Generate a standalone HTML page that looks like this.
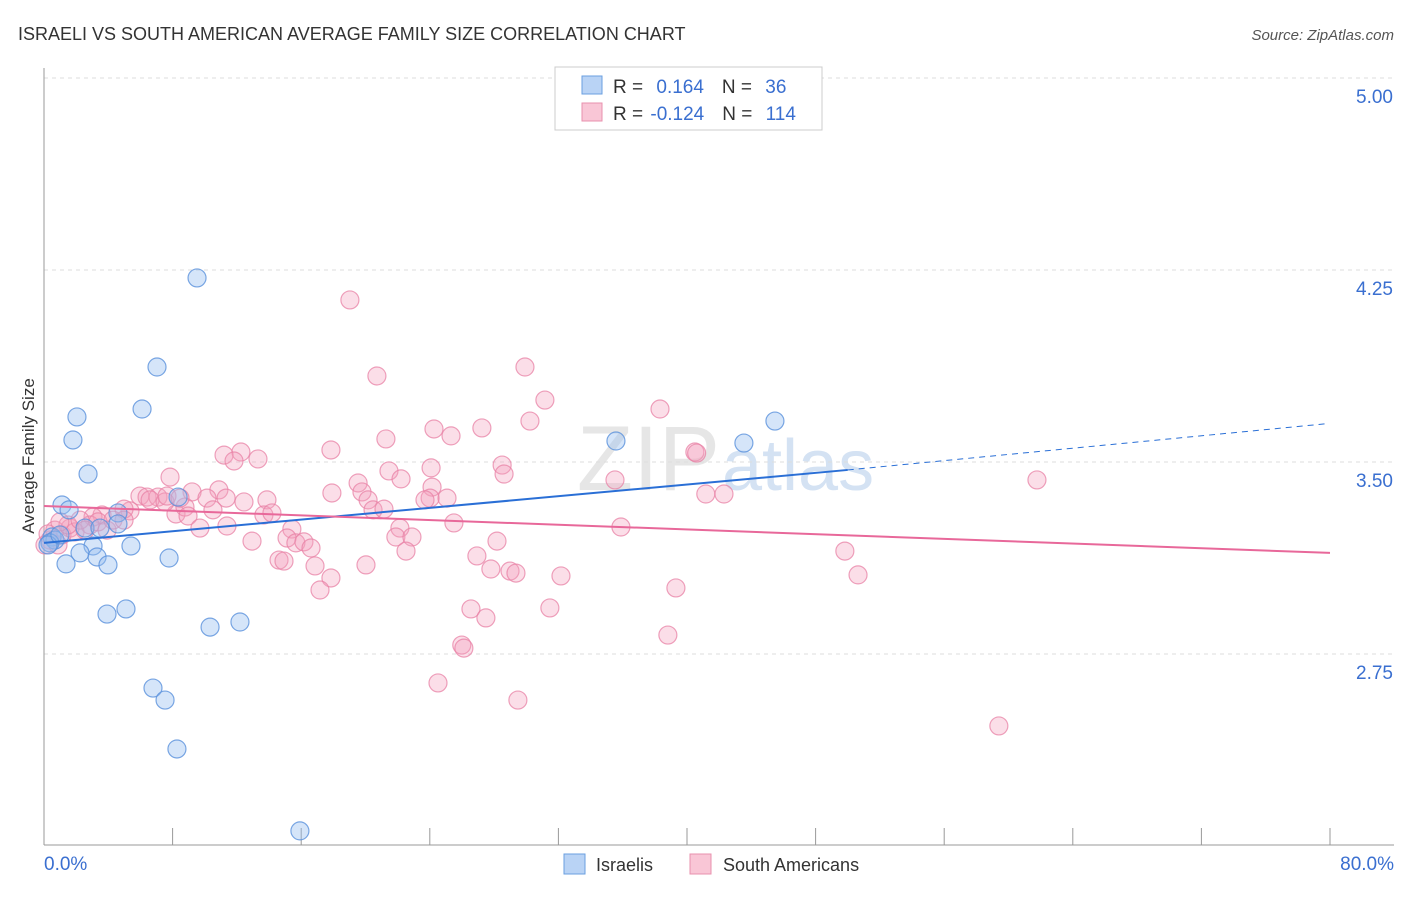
<!DOCTYPE html>
<html><head><meta charset="utf-8"><style>
body{margin:0;background:#fff;font-family:"Liberation Sans",sans-serif;}
svg text{font-family:"Liberation Sans",sans-serif;}
</style></head><body>
<svg id="chart" width="1406" height="892" viewBox="0 0 1406 892">
<text x="18" y="40" font-size="18" fill="#333">ISRAELI VS SOUTH AMERICAN AVERAGE FAMILY SIZE CORRELATION CHART</text>
<text x="1394" y="40" font-size="15" fill="#555" font-style="italic" text-anchor="end">Source: ZipAtlas.com</text>
<text x="720" y="490" font-size="92" fill="#e6e6e6" font-family="Liberation Serif" text-anchor="end">ZIP</text>
<text x="722" y="490" font-size="72" fill="#d4e2f3">atlas</text>
<g id="grid"></g><g id="axes"></g><g id="pts"></g><g id="lines"></g>
<text transform="translate(34,456) rotate(-90)" font-size="17" fill="#333" text-anchor="middle">Average Family Size</text>
<g>
<rect x="555" y="67" width="267" height="63" fill="#fff" stroke="#ccc"/>
<rect x="582" y="76" width="20" height="18" fill="#b9d3f5" stroke="#6a9fe0"/>
<rect x="582" y="103" width="20" height="18" fill="#f9c6d6" stroke="#e890ae"/>
<text x="613" y="93" font-size="19" fill="#333">R = <tspan fill="#3a6fd0" dx="8">0.164</tspan><tspan fill="#333" dx="18">N = </tspan><tspan fill="#3a6fd0" dx="8">36</tspan></text>
<text x="613" y="120" font-size="19" fill="#333">R = <tspan fill="#3a6fd0" dx="2">-0.124</tspan><tspan fill="#333" dx="18">N = </tspan><tspan fill="#3a6fd0" dx="8">114</tspan></text>
</g>
<rect x="564" y="854" width="21" height="20" fill="#b9d3f5" stroke="#6a9fe0"/>
<text x="596" y="871" font-size="18" fill="#333">Israelis</text>
<rect x="690" y="854" width="21" height="20" fill="#f9c6d6" stroke="#e890ae"/>
<text x="723" y="871" font-size="18" fill="#333">South Americans</text>
</svg>
<script>
const yTicks=[5.00,4.25,3.50,2.75];
const xTickLabels=["0.0%","80.0%"];
const blueX=[9.52,7.03,6.10,2.05,1.80,2.74,1.12,1.56,8.34,4.60,4.60,2.55,0.50,0.68,0.37,0.25,3.05,2.24,5.41,3.30,1.37,3.98,7.78,5.10,3.92,10.33,12.19,6.78,7.53,8.27,15.92,35.58,43.54,45.47,0.99,3.48];
const blueY=[4.219,3.871,3.707,3.676,3.586,3.453,3.332,3.313,3.363,3.301,3.258,3.242,3.207,3.195,3.184,3.176,3.172,3.145,3.172,3.129,3.102,3.098,3.125,2.926,2.906,2.855,2.875,2.617,2.570,2.379,2.059,3.582,3.574,3.660,3.215,3.242];
const pinkX=[19.03,20.71,29.92,31.16,30.23,38.32,21.27,24.26,25.32,27.24,17.85,12.25,11.20,11.82,13.31,7.84,21.46,22.21,24.08,28.50,28.62,40.49,35.52,61.77,19.54,19.78,17.91,24.14,24.02,25.07,23.70,20.16,20.47,21.15,9.21,10.88,10.14,11.33,13.87,12.44,5.97,6.41,7.09,6.60,5.35,4.98,3.61,3.05,8.21,8.77,10.51,8.96,9.70,11.38,13.68,14.18,15.42,25.50,22.14,21.89,22.89,22.52,15.12,15.67,16.17,16.61,12.94,14.62,14.93,16.86,17.85,17.17,20.03,26.93,28.18,27.80,28.99,29.36,32.16,35.89,41.17,42.30,49.82,50.64,39.31,38.81,31.47,26.56,27.49,25.99,26.12,24.51,29.48,59.40,40.60,0.37,0.06,0.68,1.12,1.62,1.93,1.49,2.86,3.36,3.92,4.29,0.87,0.25,2.24,4.98,7.53,7.65,8.46,0.99,2.55];
const pinkY=[4.133,3.836,3.871,3.742,3.660,3.707,3.590,3.629,3.602,3.633,3.547,3.539,3.527,3.504,3.512,3.441,3.465,3.434,3.477,3.488,3.453,3.539,3.430,3.430,3.418,3.383,3.379,3.402,3.359,3.359,3.352,3.352,3.313,3.316,3.383,3.391,3.359,3.359,3.352,3.344,3.367,3.363,3.363,3.352,3.309,3.316,3.293,3.285,3.297,3.324,3.313,3.289,3.242,3.250,3.293,3.301,3.238,3.262,3.242,3.207,3.207,3.152,3.203,3.184,3.188,3.164,3.191,3.117,3.113,3.094,3.047,3.000,3.098,3.133,3.191,3.082,3.074,3.066,3.055,3.246,3.375,3.375,3.152,3.059,3.008,2.824,2.930,2.926,2.891,2.785,2.773,2.637,2.570,2.469,3.535,3.195,3.176,3.234,3.215,3.242,3.227,3.254,3.254,3.266,3.234,3.273,3.176,3.219,3.273,3.273,3.344,3.367,3.359,3.266,3.234];
const blueTrendX=[0,50,79.7];
const blueTrendY=[3.184,3.469,3.649];
const pinkTrendX=[0,80];
const pinkTrendY=[3.328,3.145];
const NS="http://www.w3.org/2000/svg";
const sx=v=>44+v/80*1286;
const sy=v=>78+(5-v)/0.75*192;
function mk(tag,attrs,parent){const e=document.createElementNS(NS,tag);for(const k in attrs)e.setAttribute(k,attrs[k]);document.getElementById(parent).appendChild(e);return e;}
yTicks.forEach(t=>{
  const l=mk('line',{x1:44,x2:1394,y1:sy(t),y2:sy(t),stroke:'#ddd','stroke-dasharray':'4,4'},'grid');
  
  
  const tx=mk('text',{x:1393,y:sy(t)+25,'font-size':19,fill:'#3a6fd0','text-anchor':'end'},'grid');
  tx.textContent=t.toFixed(2);
  
  
});
const ax=mk('line',{x1:44,x2:44,y1:68,y2:845,stroke:'#999'},'axes');


const bx=mk('line',{x1:44,x2:1394,y1:845,y2:845,stroke:'#999'},'axes');


for(let i=0;i<=10;i++){
  const t=mk('line',{x1:sx(i*8),x2:sx(i*8),y1:828,y2:845,stroke:'#999'},'axes');
  
  
}
[[0,'start',44],[80,'end',1394]].forEach((d,i)=>{
  const tx=mk('text',{x:d[2],y:870,'font-size':19,fill:'#3a6fd0','text-anchor':d[1]},'axes');
  tx.textContent=xTickLabels[i];
  
  
});
pinkX.forEach((x,i)=>{
  const c=mk('circle',{cx:sx(x),cy:sy(pinkY[i]),r:9,fill:'rgba(244,160,188,0.35)',stroke:'rgba(232,130,166,0.75)','stroke-width':1.2},'pts');
  
  
});
blueX.forEach((x,i)=>{
  const c=mk('circle',{cx:sx(x),cy:sy(blueY[i]),r:9,fill:'rgba(150,190,240,0.4)',stroke:'rgba(90,145,220,0.8)','stroke-width':1.2},'pts');
  
  
});
const bl=mk('line',{x1:sx(blueTrendX[0]),y1:sy(blueTrendY[0]),x2:sx(blueTrendX[1]),y2:sy(blueTrendY[1]),stroke:'#2a6fd6','stroke-width':2},'lines');


const bd=mk('line',{x1:sx(blueTrendX[1]),y1:sy(blueTrendY[1]),x2:sx(blueTrendX[2]),y2:sy(blueTrendY[2]),stroke:'#2a6fd6','stroke-width':1,'stroke-dasharray':'6,5'},'lines');


const pl=mk('line',{x1:sx(pinkTrendX[0]),y1:sy(pinkTrendY[0]),x2:sx(pinkTrendX[1]),y2:sy(pinkTrendY[1]),stroke:'#e8689a','stroke-width':2},'lines');


</script>
</body></html>
